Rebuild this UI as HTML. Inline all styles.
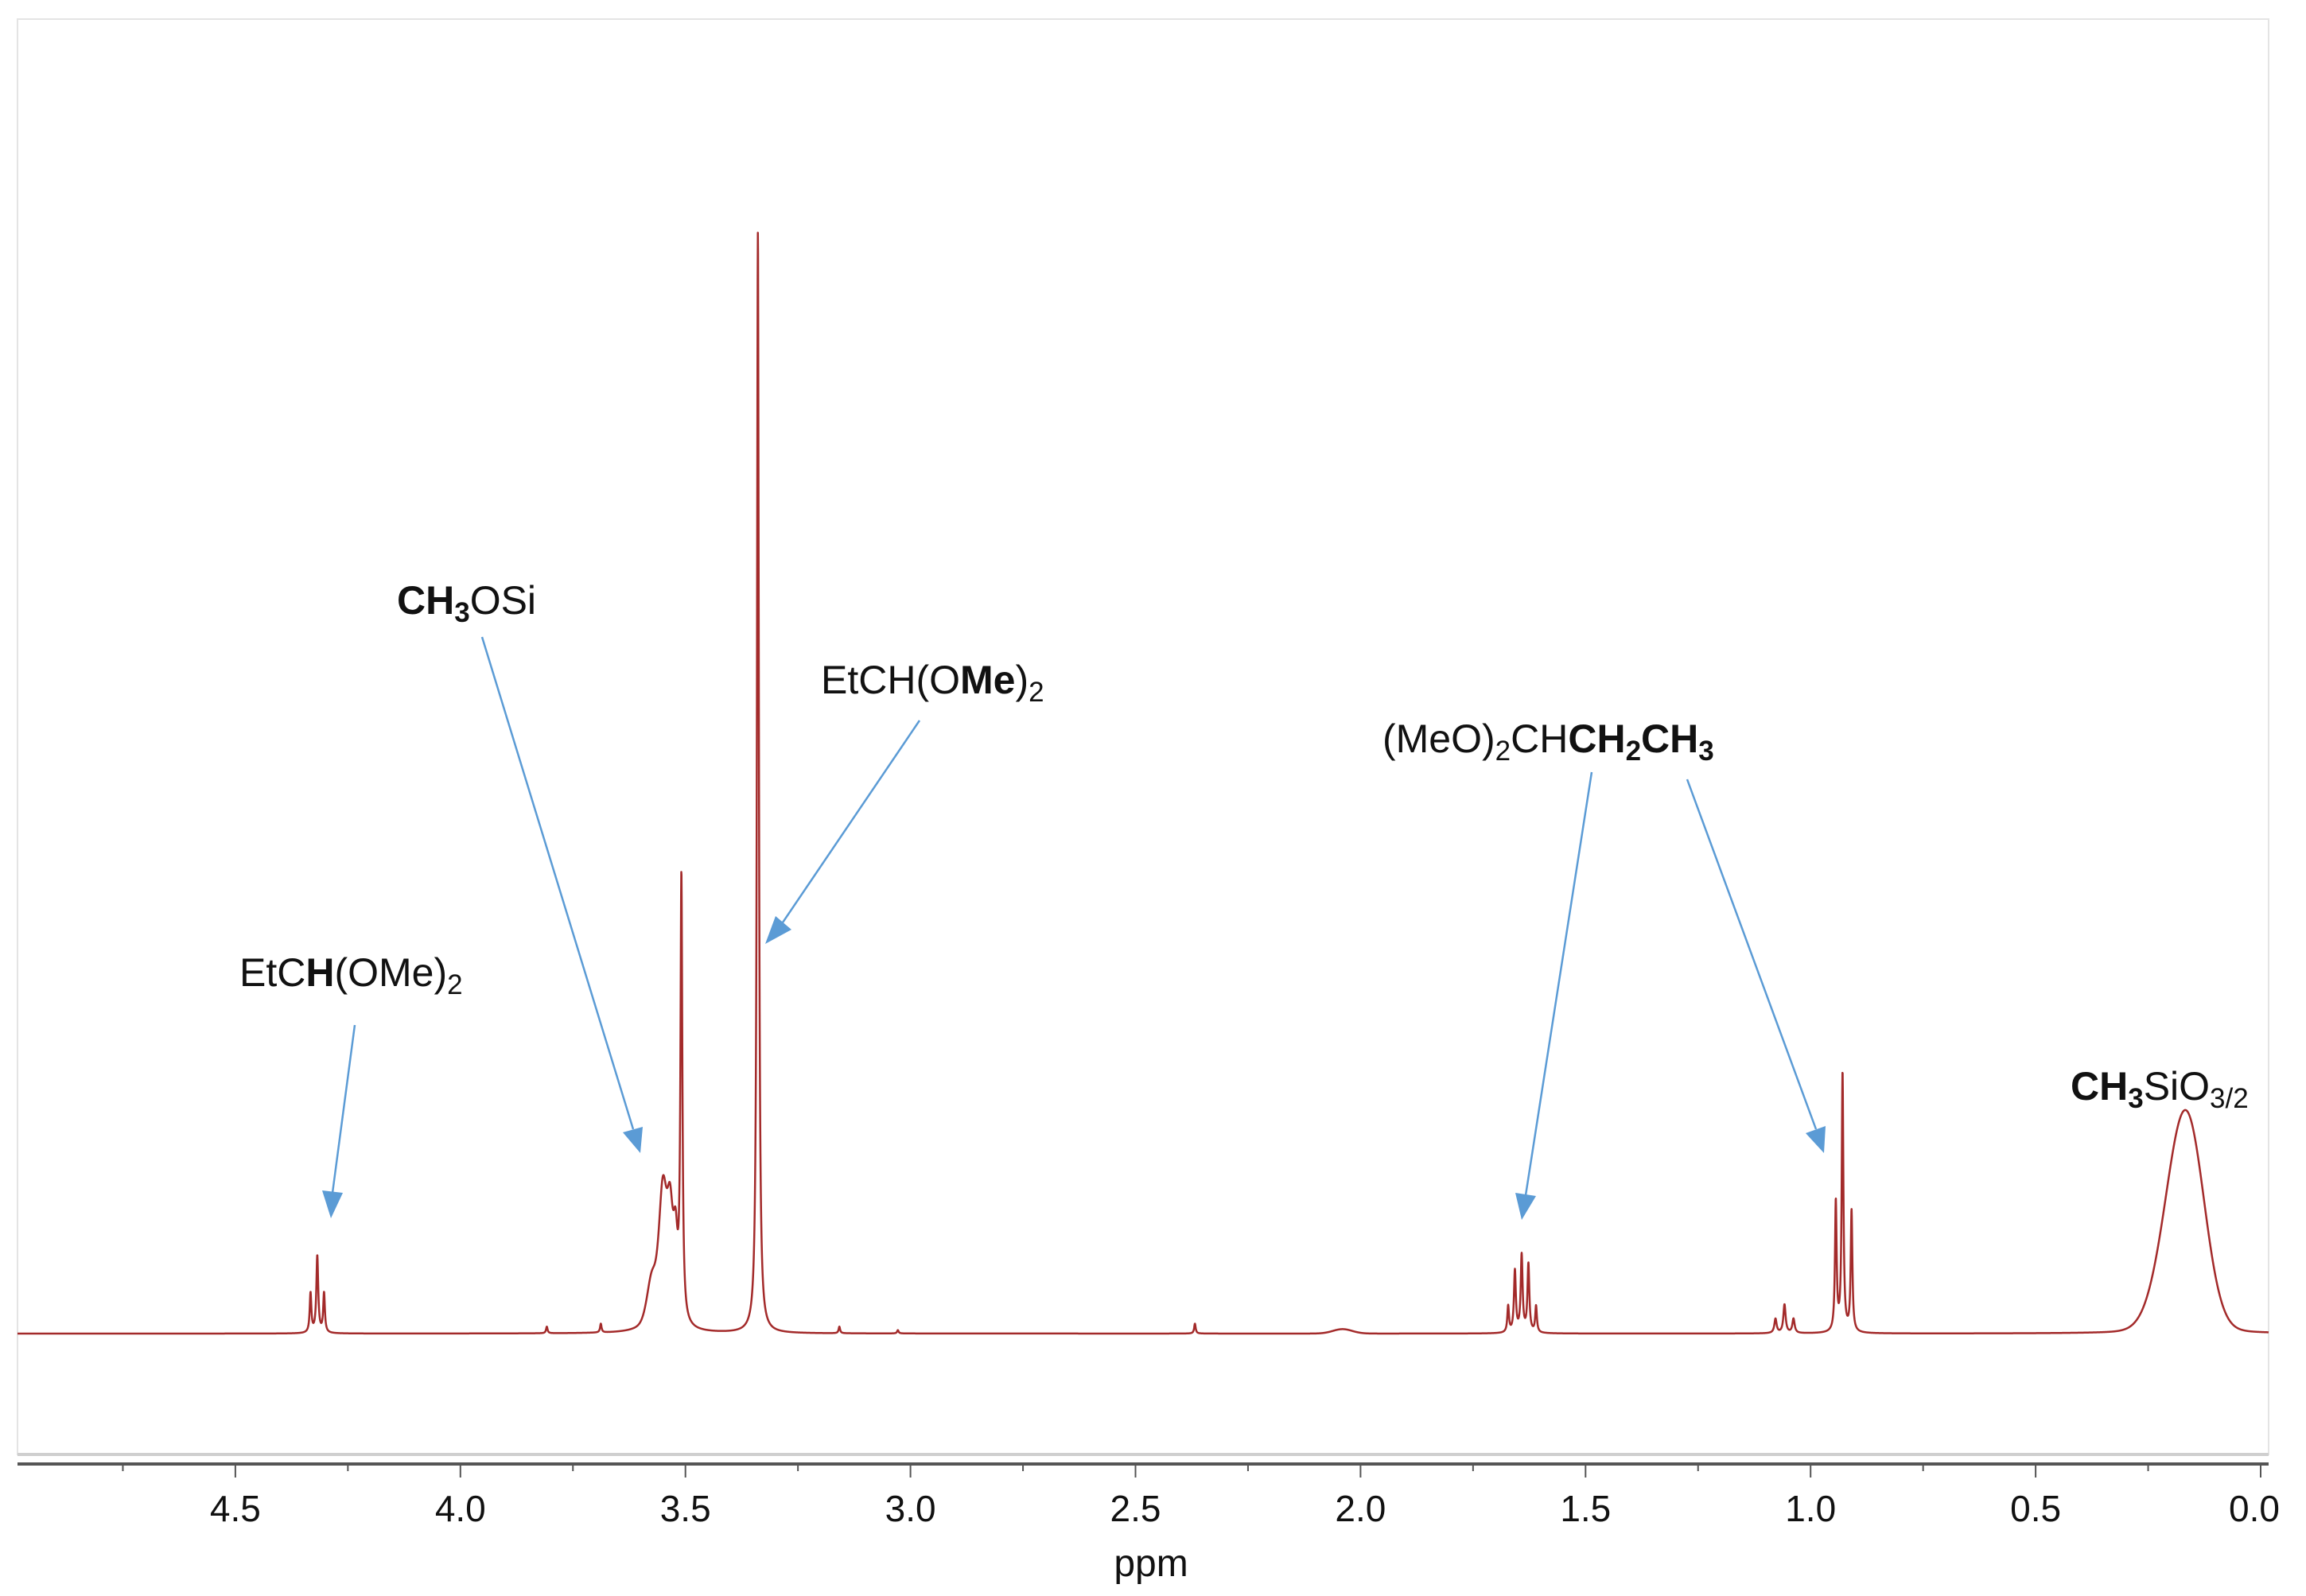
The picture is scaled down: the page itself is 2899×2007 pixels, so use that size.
<!DOCTYPE html>
<html><head><meta charset="utf-8"><style>
html,body{margin:0;padding:0;background:#fff;}
svg{display:block;font-family:"Liberation Sans","DejaVu Sans",sans-serif;}
</style></head><body>
<svg id="chart" width="2899" height="2007" viewBox="0 0 2899 2007" xmlns="http://www.w3.org/2000/svg">
<rect x="22" y="24" width="2830" height="1805" fill="none" stroke="#e4e4e4" stroke-width="2"/>
<line x1="22" y1="1829" x2="2852" y2="1829" stroke="#cfcfcf" stroke-width="4"/>
<line x1="22" y1="1841" x2="2852" y2="1841" stroke="#555" stroke-width="4"/>
<g id="ticks"></g>
<g id="ticklabels" font-size="46" fill="#111" text-anchor="middle"></g>
<text x="1447" y="1982" font-size="48" text-anchor="middle" fill="#111">ppm</text>
<path id="spec" fill="none" stroke="#a32a2a" stroke-width="2.5" stroke-linejoin="round"/>
<g font-size="50" fill="#111">
<text x="301" y="1240">EtC<tspan font-weight="bold">H</tspan>(OMe)<tspan font-size="35" dy="10">2</tspan></text>
<text x="499" y="772"><tspan font-weight="bold">CH</tspan><tspan font-weight="bold" font-size="35" dy="10">3</tspan><tspan dy="-10">OSi</tspan></text>
<text x="1032" y="872">EtCH(O<tspan font-weight="bold">Me</tspan>)<tspan font-size="35" dy="10">2</tspan></text>
<text x="1738" y="946">(MeO)<tspan font-size="35" dy="10">2</tspan><tspan dy="-10">CH</tspan><tspan font-weight="bold">CH</tspan><tspan font-weight="bold" font-size="35" dy="10">2</tspan><tspan font-weight="bold" dy="-10">CH</tspan><tspan font-weight="bold" font-size="35" dy="10">3</tspan></text>
<text x="2603" y="1383"><tspan font-weight="bold">CH</tspan><tspan font-weight="bold" font-size="35" dy="10">3</tspan><tspan dy="-10">SiO</tspan><tspan font-size="35" dy="10">3/2</tspan></text>
</g>
<g stroke="#5b9bd5" stroke-width="2.5" fill="none">
<line x1="446" y1="1289" x2="418" y2="1500"/>
<line x1="606" y1="801" x2="796" y2="1420"/>
<line x1="1156" y1="906" x2="984" y2="1160"/>
<line x1="2001" y1="971" x2="1918" y2="1503"/>
<line x1="2121" y1="980" x2="2283" y2="1420"/>
</g>
<g fill="#5b9bd5">
<polygon points="405,1497 431,1500 416,1532"/>
<polygon points="783,1424 808,1417 805,1450"/>
<polygon points="975,1152 995,1169 962,1187"/>
<polygon points="1905,1500 1931,1504 1913,1534"/>
<polygon points="2270,1425 2295,1416 2293,1450"/>
</g>
</svg>
<script>
// peak list (ppm, intensity relative to tallest = 100, half-width ppm, gaussian fraction)
const peakPpm    = [3.339, 3.509, 3.550, 3.534, 3.522, 3.575, 4.318, 4.333, 4.303, 3.808, 3.688, 3.158, 3.028, 2.368, 2.040,
                    1.672, 1.657, 1.642, 1.627, 1.610, 1.078, 1.058, 1.038, 0.944, 0.929, 0.909, 0.195, 0.165, 0.140];
const peakHeight = [100, 40.0, 12.0, 8.5, 6.5, 4.0, 7.0, 3.6, 3.6, 0.6, 0.8, 0.6, 0.3, 0.9, 0.4,
                    2.4, 5.6, 7.0, 6.2, 2.4, 1.3, 2.6, 1.3, 11.8, 23.5, 11.0, 8.5, 9.5, 6.0];
const peakWidth  = [0.0025, 0.0025, 0.011, 0.008, 0.006, 0.013, 0.0025, 0.0022, 0.0022, 0.002, 0.002, 0.002, 0.002, 0.002, 0.025,
                    0.0022, 0.0025, 0.0025, 0.0025, 0.0022, 0.003, 0.003, 0.003, 0.0022, 0.0022, 0.0022, 0.045, 0.04, 0.04];
const peakGauss  = [0, 0, 0.4, 0.3, 0.2, 0.5, 0, 0, 0, 0, 0, 0, 0, 0, 1,
                    0, 0, 0, 0, 0, 0, 0, 0, 0, 0, 0, 0.9, 0.9, 0.9];
const tickLabels = ["4.5","4.0","3.5","3.0","2.5","2.0","1.5","1.0","0.5","0.0"];
const tickValues = [4.5, 4.0, 3.5, 3.0, 2.5, 2.0, 1.5, 1.0, 0.5, 0.0];
const minorTicks = [4.75, 4.25, 3.75, 3.25, 2.75, 2.25, 1.75, 1.25, 0.75, 0.25];

const X0 = 2842, PXPPM = 565.8, BASE = 1677, K = 13.85;
function xScale(p){ return X0 - PXPPM * p; }
function yScale(v){ return BASE - K * v; }
function ppmAt(x){ return (X0 - x) / PXPPM; }
function intensity(p){
  let s = 0;
  for (let i = 0; i < peakPpm.length; i++){
    const d = (p - peakPpm[i]) / peakWidth[i];
    const g = peakGauss[i];
    s += peakHeight[i] * ((1 - g) / (1 + d * d) + g * Math.exp(-0.693 * d * d));
  }
  return s;
}
const NS = "http://www.w3.org/2000/svg";
let d = "";
for (let x = 22; x <= 2852; x += 0.25){
  const y = yScale(intensity(ppmAt(x)));
  d += (d ? "L" : "M") + x.toFixed(2) + "," + y.toFixed(2);
}
document.getElementById("spec").setAttribute("d", d);

const tg = document.getElementById("ticks");
const lg = document.getElementById("ticklabels");
tickValues.forEach((v, i) => {
  const l = document.createElementNS(NS, "line");
  
  
  l.setAttribute("x1", xScale(v)); l.setAttribute("x2", xScale(v));
  l.setAttribute("y1", 1841); l.setAttribute("y2", 1858);
  l.setAttribute("stroke", "#555"); l.setAttribute("stroke-width", 2);
  tg.appendChild(l);
  const t = document.createElementNS(NS, "text");
  
  
  t.setAttribute("x", xScale(v) + (v === 0 ? -8 : 0)); t.setAttribute("y", 1913);
  t.textContent = tickLabels[i];
  lg.appendChild(t);
});
minorTicks.forEach(v => {
  const l = document.createElementNS(NS, "line");
  
  
  l.setAttribute("x1", xScale(v)); l.setAttribute("x2", xScale(v));
  l.setAttribute("y1", 1841); l.setAttribute("y2", 1850);
  l.setAttribute("stroke", "#555"); l.setAttribute("stroke-width", 2);
  tg.appendChild(l);
});
</script>
</body></html>
